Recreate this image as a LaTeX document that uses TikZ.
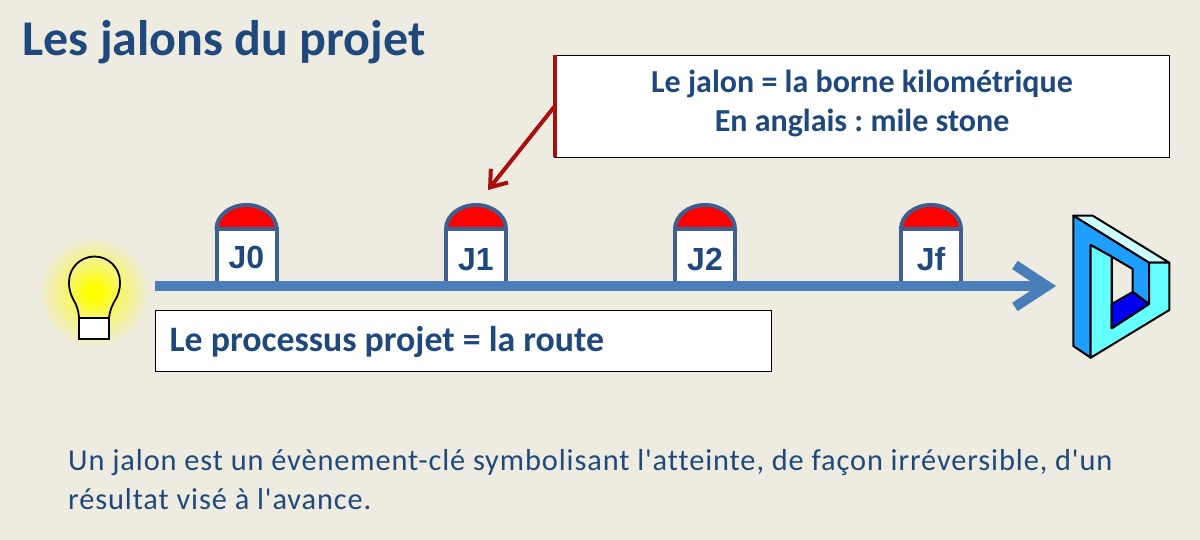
\documentclass[tikz,border=0pt]{standalone}
\usepackage{fontspec}
\setmainfont{Carlito}
\newfontfamily\labelfont{Liberation Sans}
\newfontfamily\defnfont[LetterSpace=3,Ligatures=NoCommon]{Carlito}
\usetikzlibrary{arrows.meta,positioning,calc}
\definecolor{jalonground}{HTML}{EEEBE0}
\definecolor{jalontext}{HTML}{1F497D}
\definecolor{jalonline}{HTML}{3F5F8E}
\definecolor{jalonroad}{HTML}{4A7EBB}
\definecolor{jalonarrow}{HTML}{A80F0F}
\definecolor{formeface}{HTML}{1E9EFF}
\definecolor{formefront}{HTML}{66FFFF}
\definecolor{formetop}{HTML}{CCFFFF}
\definecolor{formefloor}{HTML}{0000F0}
\pgfdeclareradialshading{lueur}{\pgfpointorigin}{color(0bp)=(yellow); color(3bp)=(yellow); color(12bp)=(yellow!50!jalonground); color(25bp)=(jalonground); color(50bp)=(jalonground)}
\begin{document}
\begin{tikzpicture}[x=1pt, y=-1pt,
  bornebox/.style={draw=jalonline, fill=white, line width=4pt, minimum width=60pt, minimum height=55pt, inner sep=0pt, outer sep=0pt},
  bornetext/.style={text=jalontext, font=\labelfont\bfseries\fontsize{32}{34}\selectfont},
  txtbox/.style={draw=black, fill=white, line width=1pt, inner sep=0pt, outer sep=0pt},
  forme/.style={draw=black, line width=2pt, line join=round}]
\fill[jalonground] (0,0) rectangle (1200,540);
\useasboundingbox (0,0) rectangle (1200,540);
\node[anchor=west, text=jalontext, font=\bfseries\fontsize{50}{54}\selectfont] (titre) at (19,42) {Les jalons du projet};
% ampoule
\shade[shading=lueur] (94,292) circle (56);
\draw[black, line width=1.8pt] (79,318) .. controls (78,300) and (69,300) .. (69,282) arc (180:360:25.5) .. controls (120,300) and (111,300) .. (109,318);
\node[draw=black, fill=white, line width=1.8pt, minimum width=30pt, minimum height=21pt, inner sep=0pt, outer sep=0pt] (culot) at (94,328.5) {};
% bornes
\foreach \x/\name/\ty in {246.5/J0/257, 476/J1/260, 705/J2/259, 931/Jf/259} {
  \node[bornebox] (\name box) at (\x,256.5) {};
  \draw[draw=jalonline, fill=red, line width=4pt, line join=round] (\name box.north west) arc (180:360:30 and 24) -- cycle;
  \node[bornetext] (\name) at (\x,\ty) {\name};
}
\coordinate (depart) at (155,286);
\coordinate (arrivee) at (1056,286);
\draw[jalonroad, line width=10pt, -{Straight Barb[length=32pt, width=42pt, line width=10pt]}] (depart) -- (arrivee);
% boites
\node[txtbox, minimum width=616pt, minimum height=61pt, anchor=north west] (route) at (155.5,310.5) {};
\node[anchor=west, text=jalontext, font=\bfseries\fontsize{35.8}{38}\selectfont] (routetxt) at (166,342) {Le processus projet = la route};
\node[txtbox, minimum width=615pt, minimum height=102pt, anchor=north west] (borne) at (554.5,55.5) {};
\node[align=center, text=jalontext, font=\bfseries\fontsize{32}{39}\selectfont] (bornetxt) at (862,103) {Le jalon = la borne kilométrique\\En anglais :\ mile stone};
\draw[jalonarrow, line width=4pt] (borne.north west) -- (borne.south west);
\coordinate (pointe) at (488,190);
\draw[jalonarrow, line width=4pt, -{Straight Barb[length=15pt, width=22pt, line width=4pt]}] (borne.west) -- (pointe);
% forme impossible
\draw[forme, fill=formetop] (1073.3,215.7) -- (1092.7,215.7) -- (1169.3,262.7) -- (1149,262.7) -- cycle;
\draw[forme, fill=formeface] (1073.3,215.7) -- (1149,262.7) -- (1149,304) -- (1132.7,292) -- (1132.7,269) -- (1111.7,256.7) -- (1090.7,245) -- (1090.7,357.7) -- (1073.3,346) -- cycle;
\draw[forme, fill=formefront] (1090.7,245) -- (1111.7,256.7) -- (1111.7,328.3) -- (1149,304) -- (1149,262.7) -- (1169.3,262.7) -- (1169.3,310) -- (1090.7,357.7) -- cycle;
\draw[forme, fill=formefloor] (1111.7,304) -- (1132.7,292) -- (1149,304) -- (1111.7,328.3) -- cycle;
\draw[forme] (1111.7,256.7) -- (1111.7,304);
% definition
\node[anchor=north west, align=left, text=jalontext, inner sep=0pt, font=\defnfont\fontsize{30.35}{39}\selectfont] (definition) at (68,449.5) {Un jalon est un évènement-clé symbolisant l'atteinte, de façon irréversible, d'un\\résultat visé à l'avance.};
\end{tikzpicture}
\end{document}
